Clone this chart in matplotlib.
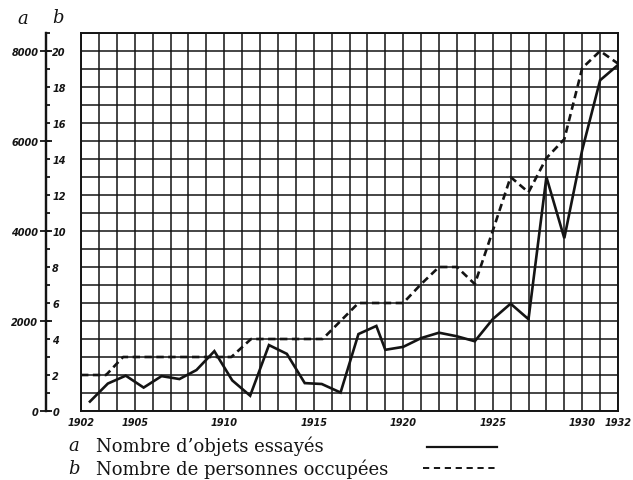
import matplotlib
matplotlib.use("Agg")
import matplotlib.pyplot as plt
from matplotlib.lines import Line2D

# ----------------------------
# Data
# a = number of objects tested, b = number of persons employed
# ----------------------------

a_years = [1902.5, 1903.5, 1904.5, 1905.5, 1906.5, 1907.5, 1908.45, 1909.45,
           1910.45, 1911.45, 1912.5, 1913.5, 1914.5, 1915.45, 1916.5, 1917.5,
           1918.5, 1919, 1920, 1921, 1922, 1923, 1924, 1925, 1926, 1927,
           1928, 1929, 1930, 1931, 1932]
a_values = [210, 610, 785, 520, 775, 710, 910, 1330, 680, 340, 1465, 1270,
            620, 600, 410, 1710, 1890, 1360, 1425, 1620, 1740, 1660, 1550,
            2040, 2385, 2040, 5200, 3840, 5800, 7350, 7690]

b_years = [1902, 1903.4, 1904.35, 1910.4, 1911.5, 1915.5, 1917.5, 1920,
           1921, 1922, 1923, 1924, 1925, 1926, 1927, 1928, 1929, 1930,
           1931, 1932]
b_values = [2, 2, 3, 3, 4, 4, 6, 6, 7.05, 8, 8, 7.05, 10, 13, 12.15, 14.05,
            15.1, 19.05, 20, 19.3]

years = list(range(1902, 1933))
labelled_years = [1902, 1905, 1910, 1915, 1920, 1925, 1930, 1932]
a_ticks = [0, 2000, 4000, 6000, 8000]
b_major = list(range(0, 21, 2))
b_minor = list(range(1, 22, 2))

legend_a = "Nombre d\u2019objets essay\u00e9s"
legend_b = "Nombre de personnes occup\u00e9es"

A_PER_B = 400  # 20 on scale b == 8000 on scale a

INK = "#141414"
tick_font = dict(family="DejaVu Sans", weight="bold", style="italic", size=7)

# ----------------------------
# Figure / grid
# ----------------------------

W, H = 633, 481
fig = plt.figure(figsize=(W / 100, H / 100), dpi=100)
fig.patch.set_facecolor("white")

gx0, gx1, gy0, gy1 = 81, 618, 412, 34   # grid box in pixels
bottom = (H - gy0) / H
height = (gy0 - gy1) / H

ax = fig.add_axes([gx0 / W, bottom, (gx1 - gx0) / W, height])
ax.set_xlim(1902, 1932)
ax.set_ylim(0, 21)

ax.set_xticks(years)
ax.set_xticklabels([str(y) if y in labelled_years else "" for y in years],
                   **tick_font)
ax.set_yticks(range(0, 22))
ax.set_yticklabels([])
ax.tick_params(length=0, pad=4, colors=INK)
ax.grid(True, color=INK, linewidth=1.1)
for s in ax.spines.values():
    s.set_linewidth(1.4)
    s.set_color(INK)

# the two series, both drawn on the b scale
ax.plot(a_years, [v / A_PER_B for v in a_values], color=INK, linewidth=1.9,
        solid_joinstyle="miter", zorder=3)
ax.plot(b_years, b_values, color=INK, linewidth=1.9, dashes=(2.8, 1.7),
        zorder=3)

# ----------------------------
# Separate scale axis on the left (a left of it, b right of it)
# ----------------------------

lax = fig.add_axes([46 / W, bottom, (gx0 - 46) / W, height])
lax.set_ylim(0, 21)
lax.set_xticks([])
for side in ["top", "right", "bottom"]:
    lax.spines[side].set_visible(False)
lax.spines["left"].set_linewidth(1.6)
lax.spines["left"].set_color(INK)
lax.patch.set_alpha(0)
lax.set_yticks([v / A_PER_B for v in a_ticks])
lax.set_yticklabels([str(v) for v in a_ticks], **tick_font)
lax.tick_params(axis="y", direction="inout", length=9, width=1.3, pad=1,
                colors=INK)

bax = lax.twinx()
bax.set_ylim(0, 21)
for side in ["top", "left", "bottom"]:
    bax.spines[side].set_visible(False)
bax.spines["right"].set_position(("axes", 0))
bax.spines["right"].set_linewidth(1.6)
bax.spines["right"].set_color(INK)
bax.set_yticks(b_major)
bax.set_yticklabels([str(v) for v in b_major], **tick_font)
bax.set_yticks(b_minor, minor=True)
bax.tick_params(axis="y", which="major", direction="out", length=3, width=1.3,
                pad=1.5, colors=INK)
bax.tick_params(axis="y", which="minor", direction="out", length=3, width=1.3,
                colors=INK)

# scale names above the axis
serif_it = dict(family="DejaVu Serif", style="italic", size=13, color=INK)
fig.text(23 / W, 1 - 19 / H, "a", ha="center", va="center", **serif_it)
fig.text(58 / W, 1 - 18 / H, "b", ha="center", va="center", **serif_it)

# ----------------------------
# Legend below the chart
# ----------------------------

serif = dict(family="DejaVu Serif", size=13, color=INK)
fig.text(74 / W, 1 - 446 / H, "a", ha="center", va="center",
         **{**serif, "style": "italic"})
fig.text(96 / W, 1 - 446 / H, legend_a, ha="left", va="center", **serif)
fig.text(74 / W, 1 - 469 / H, "b", ha="center", va="center",
         **{**serif, "style": "italic"})
fig.text(96 / W, 1 - 469 / H, legend_b, ha="left", va="center", **serif)

fig.add_artist(Line2D([427 / W, 497 / W], [1 - 448 / H, 1 - 448 / H],
                      color=INK, linewidth=1.6))
fig.add_artist(Line2D([423 / W, 497 / W], [1 - 469 / H, 1 - 469 / H],
                      color=INK, linewidth=1.4, dashes=(3.2, 2.4)))

fig.savefig("out.png", dpi=100, facecolor="white")
